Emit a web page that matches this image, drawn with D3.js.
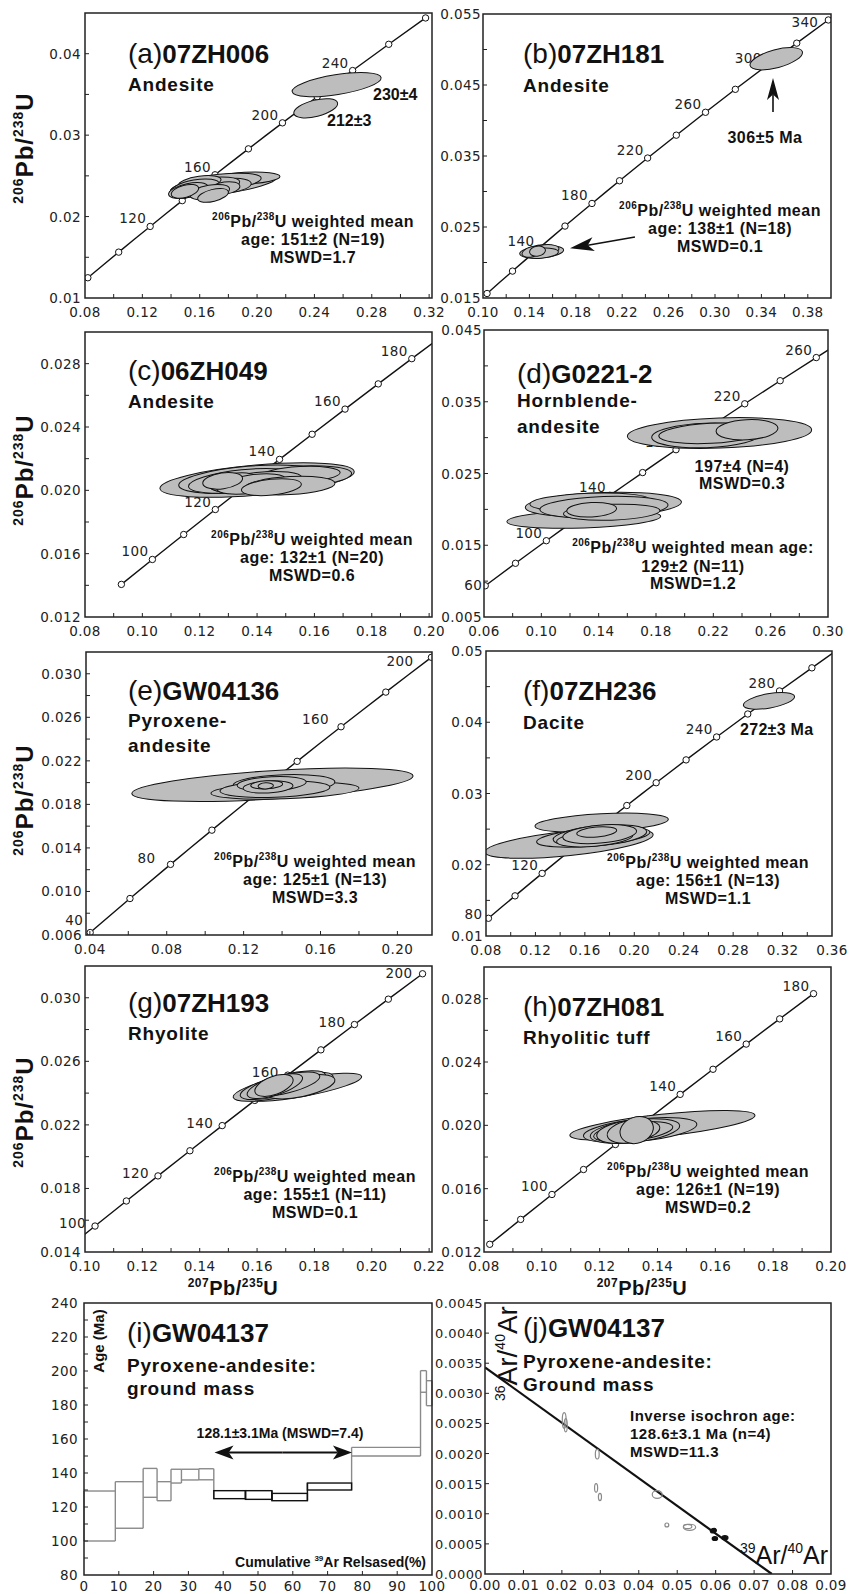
<!DOCTYPE html>
<html>
<head>
<meta charset="utf-8">
<title>Zircon U-Pb concordia and Ar-Ar diagrams</title>
<script src="https://d3js.org/d3.v7.min.js"></script>
<style>
body { margin: 0; background: #fff; }
text { font-family: "Liberation Sans", Arial, Helvetica, sans-serif; fill: #111; }
.tk { font-family: "DejaVu Sans", sans-serif; font-size: 13.5px; letter-spacing: 0.4px; fill: #222; }
</style>
</head>
<body>
<div id="wrapper"></div>
<script>
// concordia reference points: age (Ma), 207Pb/235U, 206Pb/238U
var concAge = [40, 60, 80, 90, 100, 110, 120, 130, 140, 150, 160, 170, 180, 190, 200, 220, 240, 260, 280, 300, 320, 340];
var concX = [0.04018, 0.06087, 0.08198, 0.09268, 0.10350, 0.11442, 0.12545, 0.13659, 0.14784, 0.15920, 0.17068, 0.18226, 0.19396, 0.20577, 0.21771, 0.24193, 0.26664, 0.29183, 0.31753, 0.34374, 0.37047, 0.39773];
var concY = [0.006224, 0.009351, 0.012487, 0.014059, 0.015633, 0.017210, 0.018789, 0.020371, 0.021955, 0.023541, 0.025131, 0.026722, 0.028316, 0.029912, 0.031511, 0.034716, 0.037932, 0.041157, 0.044392, 0.047637, 0.050893, 0.054158];

// tick labels
var xTickA = ["0.08","0.12","0.16","0.20","0.24","0.28","0.32"], yTickA = ["0.01","0.02","0.03","0.04"];
var xTickB = ["0.10","0.14","0.18","0.22","0.26","0.30","0.34","0.38"], yTickB = ["0.015","0.025","0.035","0.045","0.055"];
var xTickC = ["0.08","0.10","0.12","0.14","0.16","0.18","0.20"], yTickC = ["0.012","0.016","0.020","0.024","0.028"];
var xTickD = ["0.06","0.10","0.14","0.18","0.22","0.26","0.30"], yTickD = ["0.005","0.015","0.025","0.035","0.045"];
var xTickE = ["0.04","0.08","0.12","0.16","0.20"], yTickE = ["0.006","0.010","0.014","0.018","0.022","0.026","0.030"];
var xTickF = ["0.08","0.12","0.16","0.20","0.24","0.28","0.32","0.36"], yTickF = ["0.01","0.02","0.03","0.04","0.05"];
var xTickG = ["0.10","0.12","0.14","0.16","0.18","0.20","0.22"], yTickG = ["0.014","0.018","0.022","0.026","0.030"];
var xTickH = ["0.08","0.10","0.12","0.14","0.16","0.18","0.20"], yTickH = ["0.012","0.016","0.020","0.024","0.028"];
var xTickI = ["0","10","20","30","40","50","60","70","80","90","100"], yTickI = ["80","100","120","140","160","180","200","220","240"];
var xTickJ = ["0.00","0.01","0.02","0.03","0.04","0.05","0.06","0.07","0.08","0.09"];
var yTickJ = ["0.0000","0.0005","0.0010","0.0015","0.0020","0.0025","0.0030","0.0035","0.0040","0.0045"];

// concordia age markers and labelled ages
var markA = [80,100,120,140,160,180,200,220,240,260,280], labA = [120,160,200,240];
var markB = [100,120,140,160,180,200,220,240,260,280,300,320,340], labB = [140,180,220,260,300,340];
var markC = [90,100,110,120,130,140,150,160,170,180], labC = [100,120,140,160,180];
var markD = [60,80,100,120,140,160,180,200,220,240,260], labD = [60,100,140,180,220,260];
var markE = [40,60,80,100,120,140,160,180,200], labE = [40,80,160,200];
var markF = [80,100,120,140,160,180,200,220,240,260,280,300], labF = [80,120,200,240,280];
var markG = [100,110,120,130,140,150,160,170,180,190,200], labG = [100,120,140,160,180,200];
var markH = [80,90,100,110,120,130,140,150,160,170,180], labH = [100,140,160,180];

// zircon analyses: [207/235, 206/238, half-width 207/235, half-width 206/238, tilt deg]
var ellA = [
  [0.2555, 0.0362, 0.0314, 0.00122, -9], [0.2409, 0.0333, 0.0157, 0.0010, -14],
  [0.176, 0.0238, 0.0375, 0.0010, -8], [0.1916, 0.0247, 0.0244, 0.00073, -3],
  [0.1740, 0.0242, 0.0290, 0.0010, -6], [0.1810, 0.0238, 0.0150, 0.00085, -6],
  [0.1637, 0.0237, 0.0244, 0.0010, -8], [0.1600, 0.0242, 0.0150, 0.00075, -8],
  [0.1567, 0.0235, 0.0174, 0.0010, -10], [0.1520, 0.0232, 0.0140, 0.00085, -12],
  [0.1776, 0.0235, 0.0105, 0.00075, -8], [0.1670, 0.0230, 0.0140, 0.00086, -10],
  [0.1497, 0.0231, 0.0098, 0.00075, -15], [0.1693, 0.0226, 0.0110, 0.00073, -14]
];
var ellB = [
  [0.3528, 0.0487, 0.0233, 0.00127, -15],
  [0.1506, 0.0215, 0.0190, 0.00085, -5], [0.1480, 0.0216, 0.0130, 0.00085, -10],
  [0.1535, 0.0218, 0.0120, 0.0007, -5], [0.1500, 0.0213, 0.0150, 0.0007, -5],
  [0.1420, 0.0215, 0.0086, 0.0007, -15], [0.1470, 0.0216, 0.0069, 0.0007, -10]
];
var ellC = [
  [0.140, 0.02065, 0.0340, 0.00095, -5], [0.1515, 0.0208, 0.0215, 0.0007, -4],
  [0.137, 0.0207, 0.0244, 0.00082, -5], [0.135, 0.0206, 0.0190, 0.0007, -6],
  [0.155, 0.0210, 0.0140, 0.0005, -3], [0.140, 0.0205, 0.0157, 0.00063, -6],
  [0.132, 0.0205, 0.0087, 0.00057, -8], [0.138, 0.0204, 0.0122, 0.00057, -8],
  [0.1515, 0.0203, 0.0157, 0.00057, -3], [0.128, 0.0206, 0.0070, 0.0005, -8],
  [0.145, 0.0202, 0.0105, 0.0005, -6]
];
var ellD = [
  [0.2243, 0.03064, 0.0643, 0.0021, -2], [0.2150, 0.0303, 0.0380, 0.0017, -2],
  [0.2182, 0.0306, 0.0363, 0.0014, -3], [0.2435, 0.0311, 0.0216, 0.0014, -3],
  [0.1296, 0.01866, 0.0537, 0.00125, -2], [0.1433, 0.02065, 0.0545, 0.0017, -2],
  [0.1340, 0.0210, 0.0420, 0.00125, -2], [0.1437, 0.0203, 0.0447, 0.0015, -2],
  [0.1491, 0.0196, 0.0337, 0.0011, -2], [0.1351, 0.01995, 0.0174, 0.0010, -3]
];
var ellE = [
  [0.135, 0.0198, 0.0733, 0.0013, -3.6], [0.1415, 0.01926, 0.0385, 0.00075, -2],
  [0.141, 0.0199, 0.0265, 0.00083, -2], [0.1363, 0.0194, 0.0286, 0.00075, -2],
  [0.1346, 0.0199, 0.0180, 0.00065, -3], [0.1327, 0.0196, 0.0130, 0.00055, -3],
  [0.132, 0.0198, 0.0083, 0.00037, -3], [0.1315, 0.0197, 0.0040, 0.00028, -3]
];
var ellF = [
  [0.309, 0.043, 0.021, 0.001, -10],
  [0.1472, 0.0230, 0.0684, 0.0017, -6], [0.1736, 0.0259, 0.054, 0.00126, -3],
  [0.1668, 0.0239, 0.046, 0.00126, -5], [0.1722, 0.0241, 0.038, 0.0014, -5],
  [0.168, 0.0237, 0.031, 0.0011, -5], [0.172, 0.0243, 0.030, 0.00126, -5],
  [0.1696, 0.0246, 0.0162, 0.0007, -5]
];
var ellG = [
  [0.1761, 0.02437, 0.0207, 0.00057, -10.5], [0.1691, 0.0244, 0.0178, 0.00063, -12],
  [0.1690, 0.0245, 0.0153, 0.00063, -14], [0.1752, 0.0244, 0.0122, 0.00063, -12],
  [0.1703, 0.02457, 0.0119, 0.00057, -14], [0.1662, 0.02444, 0.0101, 0.00057, -18],
  [0.1659, 0.02448, 0.0070, 0.00057, -20]
];
var ellH = [
  [0.1417, 0.0200, 0.0322, 0.0007, -6.2], [0.134, 0.0197, 0.0197, 0.0007, -6],
  [0.1322, 0.01964, 0.0156, 0.0007, -7], [0.1316, 0.0196, 0.0138, 0.00057, -7],
  [0.1299, 0.0196, 0.0110, 0.0007, -8], [0.1305, 0.0196, 0.0080, 0.0007, -10],
  [0.1328, 0.0197, 0.0059, 0.00082, -20]
];

// Ar-Ar age spectrum steps
var stepFrom = [0, 9, 17, 21, 25, 28, 33, 37.3, 46.4, 54, 64.2, 76.9, 96.7, 98.4];
var stepTo   = [9, 17, 21, 25, 28, 33, 37.3, 46.4, 54, 64.2, 76.9, 96.7, 98.4, 100];
var stepLow  = [100, 107.5, 125.7, 123.7, 134.1, 135.9, 136, 124.9, 124.5, 123.7, 130, 150, 187.5, 179.6];
var stepHigh = [129.4, 134.9, 142.7, 134.9, 142.2, 142.2, 142.5, 129.6, 129.6, 128, 134.1, 155.1, 200.2, 194.3];
var stepPlateau = [0, 0, 0, 0, 0, 0, 0, 1, 1, 1, 1, 0, 0, 0];

// inverse isochron: [39Ar/40Ar, 36Ar/40Ar, half-width x, half-width y, tilt, used]
var isoPts = [
  [0.0206, 0.00255, 0.0005, 0.00013, 0, 0], [0.0210, 0.00247, 0.0004, 0.00011, 0, 0],
  [0.0292, 0.00199, 0.0005, 0.00008, 0, 0], [0.0289, 0.00143, 0.0004, 0.00007, 0, 0],
  [0.0299, 0.00128, 0.0004, 0.00006, 0, 0], [0.0448, 0.00132, 0.0013, 0.000065, 0, 0],
  [0.0473, 0.000814, 0.0005, 0.000033, 0, 0], [0.0532, 0.000776, 0.0016, 0.00005, 0, 0],
  [0.0527, 0.000790, 0.0011, 0.000035, 0, 0],
  [0.0594, 0.00072, 0.0008, 0.000035, -20, 1], [0.0598, 0.00059, 0.0007, 0.000033, 0, 1],
  [0.0624, 0.000603, 0.0008, 0.000033, 0, 1]
];
var isoLine = [[0, 0.00343], [0.0746, 0]];

var svg = d3.select("#wrapper").append("svg").attr("width", 849).attr("height", 1594);

// put a string with ^superscript^ parts into a text element
function rich(t, str, size, supSize) {
  var k = Math.round(size * 0.42), up = false;
  str.split("^").forEach(function (s, i) {
    var sup = i % 2 === 1;
    if (s === "") return;
    var ts = t.append("tspan").text(s);
    if (sup) {
      ts.attr("font-size", supSize);
      if (!up) { ts.attr("dy", -k); up = true; }
    } else if (up) { ts.attr("dy", k); up = false; }
  });
  return t;
}

function txt(x, y, str, size, weight, anchor, spacing, supSize) {
  var t = svg.append("text").attr("x", x).attr("y", y)
    .attr("font-size", size).attr("font-weight", weight || "normal")
    .attr("text-anchor", anchor || "start");
  if (spacing) t.attr("letter-spacing", spacing);
  return rich(t, str, size, supSize || Math.round(size * 0.6));
}

function title(x, y, letter, id, subs) {
  var t = svg.append("text").attr("x", x).attr("y", y);
  t.append("tspan").attr("font-size", 28).text(letter);
  t.append("tspan").attr("font-size", 26).attr("font-weight", "bold").text(id);
  subs.forEach(function (s) { txt(x, s[1], s[0], 19, "bold", "start", 0.8); });
}

function drawTicks(box, sx, sy, xt, yt, xdiv, ydiv, ygap, xgap) {
  var g = svg.append("g");
  function all(m, div, dom) {
    var span = m[1] - m[0], st = span / div, out = [];
    var lo = Math.min(dom[0], dom[1]), hi = Math.max(dom[0], dom[1]);
    for (var n = -2 * div; n <= (m.length + 1) * div; n++) {
      var v = m[0] + n * st;
      if (v > lo + span * 0.02 && v < hi - span * 0.02) out.push(v);
    }
    return out;
  }
  all(xt.map(Number), xdiv, sx.domain()).forEach(function (v) {
    g.append("line").attr("x1", sx(v)).attr("x2", sx(v)).attr("y1", box.b).attr("y2", box.b - 4)
      .attr("stroke", "#222").attr("stroke-width", 1);
  });
  all(yt.map(Number), ydiv, sy.domain()).forEach(function (v) {
    g.append("line").attr("y1", sy(v)).attr("y2", sy(v)).attr("x1", box.l).attr("x2", box.l + 4)
      .attr("stroke", "#222").attr("stroke-width", 1);
  });
  xt.forEach(function (s) {
    g.append("text").attr("class", "tk").attr("x", sx(+s)).attr("y", box.b + (xgap || 19))
      .attr("text-anchor", "middle").text(s);
  });
  yt.forEach(function (s) {
    g.append("text").attr("class", "tk yl").attr("x", box.l - ygap).attr("y", sy(+s) + 5)
      .attr("text-anchor", "end").text(s);
  });
  return g;
}

function frame(box) {
  svg.append("rect").attr("x", box.l).attr("y", box.t).attr("width", box.r - box.l)
    .attr("height", box.b - box.t).attr("fill", "none").attr("stroke", "#222").attr("stroke-width", 1.5);
}

function arrow(x1, y1, x2, y2, L, W, sw) {
  var a = Math.atan2(y2 - y1, x2 - x1), c = Math.cos(a), s = Math.sin(a);
  var bx = x2 - L * c, by = y2 - L * s, nx = x2 - (L * 0.75) * c, ny = y2 - (L * 0.75) * s;
  svg.append("line").attr("x1", x1).attr("y1", y1).attr("x2", nx).attr("y2", ny)
    .attr("stroke", "#111").attr("stroke-width", sw);
  svg.append("path").attr("fill", "#111")
    .attr("d", "M" + x2 + "," + y2 + "L" + (bx - W * s) + "," + (by + W * c) + "L" + nx + "," + ny +
      "L" + (bx + W * s) + "," + (by - W * c) + "Z");
}

// U-Pb concordia panels
var upb = [
  {k: "a", box: {l: 85, t: 13, r: 432, b: 298}, x: [0.08, 0.322], y: [0.01, 0.045], xt: xTickA, yt: yTickA, line: [80, 280], marks: markA, labs: labA, ells: ellA, gap: 4},
  {k: "b", box: {l: 483, t: 14, r: 831, b: 298}, x: [0.10, 0.40], y: [0.015, 0.055], xt: xTickB, yt: yTickB, line: [100, 340], marks: markB, labs: labB, ells: ellB, gap: 2},
  {k: "c", box: {l: 85, t: 332, r: 432, b: 617}, x: [0.08, 0.201], y: [0.012, 0.030], xt: xTickC, yt: yTickC, line: [90, 190], marks: markC, labs: labC, ells: ellC, gap: 4},
  {k: "d", box: {l: 484, t: 330, r: 828, b: 617}, x: [0.06, 0.30], y: [0.005, 0.045], xt: xTickD, yt: yTickD, line: [60, 280], marks: markD, labs: labD, ells: ellD, gap: 2},
  {k: "e", box: {l: 86, t: 652, r: 432, b: 935}, x: [0.038, 0.218], y: [0.006, 0.032], xt: xTickE, yt: yTickE, line: [40, 200], marks: markE, labs: labE, ells: ellE, gap: 4},
  {k: "f", box: {l: 486, t: 651, r: 832, b: 936}, x: [0.08, 0.36], y: [0.01, 0.05], xt: xTickF, yt: yTickF, line: [80, 320], marks: markF, labs: labF, ells: ellF, gap: 3},
  {k: "g", box: {l: 85, t: 966, r: 432, b: 1252}, x: [0.10, 0.221], y: [0.014, 0.032], xt: xTickG, yt: yTickG, line: [90, 200], marks: markG, labs: labG, ells: ellG, gap: 4},
  {k: "h", box: {l: 484, t: 967, r: 831, b: 1252}, x: [0.08, 0.20], y: [0.012, 0.030], xt: xTickH, yt: yTickH, line: [80, 180], marks: markH, labs: labH, ells: ellH, gap: 2}
];

// age label offsets from their concordia marker (px)
var labShift = {
  b: {340: [-10, 7]},
  d: {60: [-3, 4]},
  e: {all: [-12, -3], 200: [-18, 9], 80: [-15, -1], 40: [-7, -8]},
  f: {80: [-6, 1]},
  g: {all: [-9, 2], 200: [-10, 4]}
};

upb.forEach(function (p) {
  var box = p.box;
  var sx = d3.scaleLinear().domain(p.x).range([box.l, box.r]);
  var sy = d3.scaleLinear().domain(p.y).range([box.b, box.t]);
  svg.append("clipPath").attr("id", "clip" + p.k).append("rect")
    .attr("x", box.l).attr("y", box.t).attr("width", box.r - box.l).attr("height", box.b - box.t);
  var g = svg.append("g").attr("clip-path", "url(#clip" + p.k + ")");

  var pts = concAge.map(function (a, i) { return [a, concX[i], concY[i]]; })
    .filter(function (d) { return d[0] >= p.line[0] && d[0] <= p.line[1]; });
  g.append("path").datum(pts)
    .attr("d", d3.line().x(function (d) { return sx(d[1]); }).y(function (d) { return sy(d[2]); }).curve(d3.curveMonotoneX))
    .attr("fill", "none").attr("stroke", "#111").attr("stroke-width", 1.4);

  var mk = p.marks.map(function (a) { var i = concAge.indexOf(a); return [a, concX[i], concY[i]]; });
  g.selectAll("circle.m").data(mk).enter().append("circle")
    .attr("cx", function (d) { return sx(d[1]); }).attr("cy", function (d) { return sy(d[2]); })
    .attr("r", 3.2).attr("fill", "#fff").attr("stroke", "#111").attr("stroke-width", 1);

  var sh = labShift[p.k] || {};
  mk.filter(function (d) { return p.labs.indexOf(d[0]) >= 0; }).forEach(function (d) {
    var o = sh[d[0]] || sh.all || [-4, -3];
    svg.append("text").attr("class", "tk").attr("text-anchor", "end")
      .attr("x", sx(d[1]) + o[0]).attr("y", sy(d[2]) + o[1]).text(d[0]);
  });

  var eg = svg.append("g").attr("clip-path", "url(#clip" + p.k + ")");
  p.ells.forEach(function (e) {
    var cx = sx(e[0]), cy = sy(e[1]);
    eg.append("ellipse").attr("cx", cx).attr("cy", cy)
      .attr("rx", Math.abs(sx(e[0] + e[2]) - cx)).attr("ry", Math.abs(sy(e[1] + e[3]) - cy))
      .attr("transform", "rotate(" + e[4] + "," + cx + "," + cy + ")")
      .attr("fill", "#bdbdbd").attr("stroke", "#111").attr("stroke-width", 1);
  });

  drawTicks(box, sx, sy, p.xt, p.yt, 2, 2, p.gap);
  frame(box);
  p.sx = sx; p.sy = sy;
});

// arrows in (b)
var pb = upb[1];
arrow(pb.sx(0.231), pb.sy(0.0236), pb.sx(0.175), pb.sy(0.0220), 24, 7, 1.6);
arrow(pb.sx(0.35), pb.sy(0.0412), pb.sx(0.35), pb.sy(0.0460), 22, 6, 1.6);

// titles
title(128, 63, "(a)", "07ZH006", [["Andesite", 91]]);
title(523, 63, "(b)", "07ZH181", [["Andesite", 92]]);
title(128, 380, "(c)", "06ZH049", [["Andesite", 408]]);
title(517, 383, "(d)", "G0221-2", [["Hornblende-", 407], ["andesite", 433]]);
title(128, 700, "(e)", "GW04136", [["Pyroxene-", 727], ["andesite", 752]]);
title(523, 700, "(f)", "07ZH236", [["Dacite", 729]]);
title(128, 1012, "(g)", "07ZH193", [["Rhyolite", 1040]]);
title(523, 1016, "(h)", "07ZH081", [["Rhyolitic tuff", 1044]]);
title(127, 1342, "(i)", "GW04137", [["Pyroxene-andesite:", 1372], ["ground mass", 1395]]);
title(523, 1337, "(j)", "GW04137", [["Pyroxene-andesite:", 1368], ["Ground mass", 1391]]);

// weighted mean notes
var wm = "^206^Pb/^238^U weighted mean";
[[313, 227, ["151±2 (N=19)", "1.7"]], [720, 216, ["138±1 (N=18)", "0.1"]], [312, 545, ["132±1 (N=20)", "0.6"]],
 [315, 867, ["125±1 (N=13)", "3.3"]], [708, 868, ["156±1 (N=13)", "1.1"]], [315, 1182, ["155±1 (N=11)", "0.1"]],
 [708, 1177, ["126±1 (N=19)", "0.2"]]].forEach(function (w) {
  txt(w[0], w[1], wm, 16, "bold", "middle", 0.5, 10);
  txt(w[0], w[1] + 18, "age: " + w[2][0], 16, "bold", "middle", 0.5);
  txt(w[0], w[1] + 36, "MSWD=" + w[2][1], 16, "bold", "middle", 0.5);
});
txt(693, 553, wm + " age:", 16, "bold", "middle", 0.5, 10);
txt(693, 572, "129±2 (N=11)", 16, "bold", "middle", 0.5);
txt(693, 589, "MSWD=1.2", 16, "bold", "middle", 0.5);
txt(742, 472, "197±4 (N=4)", 16, "bold", "middle", 0.5);
txt(742, 489, "MSWD=0.3", 16, "bold", "middle", 0.5);
txt(373, 100, "230±4", 16, "bold", "start");
txt(327, 126, "212±3", 16, "bold", "start");
txt(765, 143, "306±5 Ma", 16, "bold", "middle", 0.5);
txt(740, 735, "272±3 Ma", 16, "bold", "start", 0.3);

// axis titles
[148, 470, 800, 1112].forEach(function (cy) {
  var t = svg.append("text").attr("transform", "translate(33," + cy + ") rotate(-90)")
    .attr("text-anchor", "middle").attr("font-size", 24).attr("font-weight", "bold").attr("letter-spacing", 1);
  rich(t, "^206^Pb/^238^U", 24, 14);
});
txt(233, 1295, "^207^Pb/^235^U", 20, "bold", "middle", 0.5, 12);
txt(642, 1295, "^207^Pb/^235^U", 20, "bold", "middle", 0.5, 12);

// (i) age spectrum
(function () {
  var box = {l: 84, t: 1303, r: 432, b: 1575};
  var sx = d3.scaleLinear().domain([0, 100]).range([box.l, box.r]);
  var sy = d3.scaleLinear().domain([80, 240]).range([box.b, box.t]);
  var g = svg.append("g").attr("fill", "none").attr("stroke-width", 1.4);
  var GR = "#8a8a8a", BK = "#111";
  var n = stepFrom.length;
  function seg(x1, y1, x2, y2, col) {
    g.append("line").attr("x1", sx(x1)).attr("y1", sy(y1)).attr("x2", sx(x2)).attr("y2", sy(y2)).attr("stroke", col);
  }
  // gray envelope first: horizontals of excluded steps and all joins
  stepFrom.forEach(function (f, i) {
    if (!stepPlateau[i]) { seg(f, stepHigh[i], stepTo[i], stepHigh[i], GR); seg(f, stepLow[i], stepTo[i], stepLow[i], GR); }
  });
  seg(stepFrom[0], stepLow[0], stepFrom[0], stepHigh[0], GR);
  seg(stepTo[n - 1], stepLow[n - 1], stepTo[n - 1], stepHigh[n - 1], GR);
  for (var i = 0; i < n - 1; i++) {
    var both = stepPlateau[i] && stepPlateau[i + 1];
    seg(stepTo[i], Math.min(stepLow[i], stepLow[i + 1]), stepTo[i], Math.max(stepHigh[i], stepHigh[i + 1]), both ? BK : GR);
  }
  // plateau steps in black on top
  stepFrom.forEach(function (f, i) {
    if (stepPlateau[i]) {
      g.append("rect").attr("x", sx(f)).attr("width", sx(stepTo[i]) - sx(f))
        .attr("y", sy(stepHigh[i])).attr("height", sy(stepLow[i]) - sy(stepHigh[i])).attr("stroke", BK);
    }
  });
  arrow(sx(57), sy(152), sx(37.5), sy(152), 19, 7, 2);
  arrow(sx(57), sy(152), sx(77), sy(152), 19, 7, 2);
  drawTicks(box, sx, sy, xTickI, yTickI, 1, 2, 6, 16);
  frame(box);
  txt(280, 1438, "128.1±3.1Ma (MSWD=7.4)", 14, "bold", "middle");
  txt(426, 1567, "Cumulative ^39^Ar Relsased(%)", 14, "bold", "end", 0, 8);
  svg.append("text").attr("transform", "translate(104,1341) rotate(-90)").attr("text-anchor", "middle")
    .attr("font-size", 15).attr("font-weight", "bold").text("Age (Ma)");
})();

// (j) inverse isochron
(function () {
  var box = {l: 485, t: 1303, r: 831, b: 1574};
  var sx = d3.scaleLinear().domain([0, 0.09]).range([box.l, box.r]);
  var sy = d3.scaleLinear().domain([0, 0.0045]).range([box.b, box.t]);
  svg.append("clipPath").attr("id", "clipj").append("rect")
    .attr("x", box.l).attr("y", box.t).attr("width", box.r - box.l).attr("height", box.b - box.t);
  var g = svg.append("g").attr("clip-path", "url(#clipj)");
  g.append("path").datum(isoLine)
    .attr("d", d3.line().x(function (d) { return sx(d[0]); }).y(function (d) { return sy(d[1]); }))
    .attr("stroke", "#111").attr("stroke-width", 2.2).attr("fill", "none");
  isoPts.forEach(function (e) {
    var cx = sx(e[0]), cy = sy(e[1]);
    g.append("ellipse").attr("cx", cx).attr("cy", cy)
      .attr("rx", Math.abs(sx(e[0] + e[2]) - cx)).attr("ry", Math.abs(sy(e[1] + e[3]) - cy))
      .attr("transform", "rotate(" + e[4] + "," + cx + "," + cy + ")")
      .attr("fill", e[5] ? "#111" : "none").attr("stroke", e[5] ? "#111" : "#8a8a8a").attr("stroke-width", 1.2);
  });
  var tg = drawTicks(box, sx, sy, xTickJ, yTickJ, 1, 1, 2, 16);
  tg.selectAll("text.yl").attr("letter-spacing", 0).style("font-size", "13px");
  frame(box);
  var t = svg.append("text").attr("transform", "translate(517,1401) rotate(-90)")
    .attr("font-size", 28).attr("fill", "#111");
  rich(t, "^36^Ar/^40^Ar", 28, 14);
  txt(828, 1564, "^39^Ar/^40^Ar", 25, "normal", "end", 0, 14);
  txt(630, 1421, "Inverse isochron age:", 15, "bold", "start", 0.5);
  txt(630, 1439, "128.6±3.1 Ma (n=4)", 15, "bold", "start", 0.5);
  txt(630, 1457, "MSWD=11.3", 15, "bold", "start", 0.5);
})();
</script>
</body>
</html>
